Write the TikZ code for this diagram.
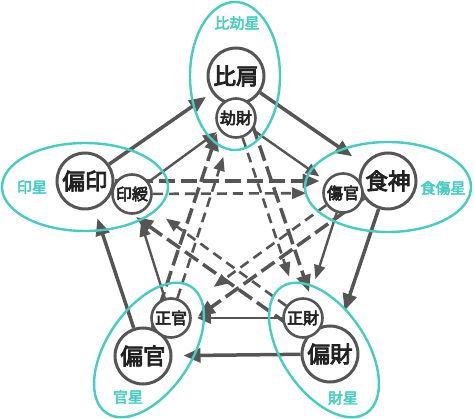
\documentclass[tikz,border=0pt]{standalone}
\usepackage{fontspec}
\newfontfamily\jp[FakeBold=4]{Noto Sans CJK JP}
\newfontfamily\jpl[FakeBold=3]{Noto Sans CJK JP}
\usetikzlibrary{arrows.meta}
\definecolor{teal1}{HTML}{45CDBF}
\definecolor{lg}{HTML}{555555}
\definecolor{tx}{HTML}{222222}
\pgfdeclarelayer{bg}
\pgfdeclarelayer{lines}
\pgfsetlayers{bg,lines,main}
\begin{document}
\begin{tikzpicture}[x=1pt,y=-1pt,
  bigc/.style={circle, draw=lg, line width=3pt, fill=white, minimum size=56pt, inner sep=0pt, font=\jp\fontsize{22.5}{23}\selectfont, text=tx},
  smallc/.style={circle, draw=lg, line width=2.6pt, fill=white, minimum size=39pt, inner sep=0pt, font=\jp\fontsize{16}{16}\selectfont, text=tx},
  grp/.style={draw=teal1, line width=2.4pt},
  glabel/.style={text=teal1, font=\jpl\fontsize{15}{15}\selectfont, inner sep=0pt},
  gen/.style={draw=lg, line width=3.5pt, -{Triangle[length=17pt,width=14pt]}},
  gens/.style={draw=lg, line width=2.4pt, -{Triangle[length=14pt,width=11pt]}},
  ctl/.style={draw=lg, line width=3.5pt, dash pattern=on 16pt off 6pt, -{Triangle[length=17pt,width=14pt]}},
  ctls/.style={draw=lg, line width=2.6pt, dash pattern=on 10pt off 6pt, -{Triangle[length=14pt,width=11pt]}},
]
\useasboundingbox (0,0) rectangle (474,419);
\begin{pgfonlayer}{bg}
\fill[white] (0,0) rectangle (474,419);
\end{pgfonlayer}

% group ellipses
\draw[grp] (235,76) ellipse [x radius=45, y radius=74];
\draw[grp] (85,187) ellipse [x radius=83, y radius=44];
\draw[grp] (388,187) ellipse [x radius=83, y radius=45];
\draw[grp, rotate around={56:(149,350)}] (149,350) ellipse [x radius=76, y radius=42];
\draw[grp, rotate around={-56:(324,350)}] (324,350) ellipse [x radius=76, y radius=42];

% group labels
\node[glabel] (l1) at (237,23) {比劫星};
\node[glabel] (l2) at (32,187) {印星};
\node[glabel] (l3) at (443,188) {食傷星};
\node[glabel] (l4) at (128,397) {官星};
\node[glabel] (l5) at (343,398) {財星};

% nodes
\node[bigc] (bj) at (236,76) {比肩};
\node[bigc] (py) at (85,181) {偏印};
\node[bigc] (ss) at (388,181) {食神};
\node[bigc] (pk) at (143,356) {偏官};
\node[bigc] (pz) at (330,354) {偏財};
\node[smallc] (jz) at (236,118) {劫財};
\node[smallc] (ys) at (132,194) {印綬};
\node[smallc] (sk) at (343,193) {傷官};
\node[smallc] (sg) at (171,318) {正官};
\node[smallc] (sz) at (303,318) {正財};

\begin{pgfonlayer}{lines}
% generating, outer
\draw[gen, shorten >=7pt] (py) -- (bj);
\draw[gen, shorten >=14pt] (bj) -- (ss);
\draw[gen, shorten >=16pt] (ss) -- (pz);
\draw[gen, shorten >=11pt] (pz) -- (pk);
\draw[gen, shorten >=10pt] (pk) -- (py);
% generating, inner
\draw[gens, shorten >=3pt] (ys) -- (jz);
\draw[gens, shorten >=8pt] (jz) -- (sk);
\draw[gens, shorten >=20pt] (sk) -- (sz);
\draw[gens, shorten >=5pt] (sz) -- (sg);
\draw[gens, shorten >=9pt] (sg) -- (ys);
% controlling, big
\draw[ctl, shorten >=39pt] (py) -- (ss);
\draw[ctl, shorten >=38pt] (ss) -- (pk);
\draw[ctl, shorten >=31pt] (pk) -- (bj);
\draw[ctl, shorten >=36pt] (bj) -- (pz);
\draw[ctl, shorten >=33pt] (pz) -- (py);
% controlling, small
\draw[ctls, shorten >=16pt] (ys) -- (sk);
\draw[ctls, shorten >=32pt] (sk) -- (sg);
\draw[ctls, shorten >=20pt] (sg) -- (jz);
\draw[ctls, shorten >=23pt] (jz) -- (sz);
\draw[ctls, shorten >=21pt] (sz) -- (ys);
\end{pgfonlayer}
\end{tikzpicture}
\end{document}
